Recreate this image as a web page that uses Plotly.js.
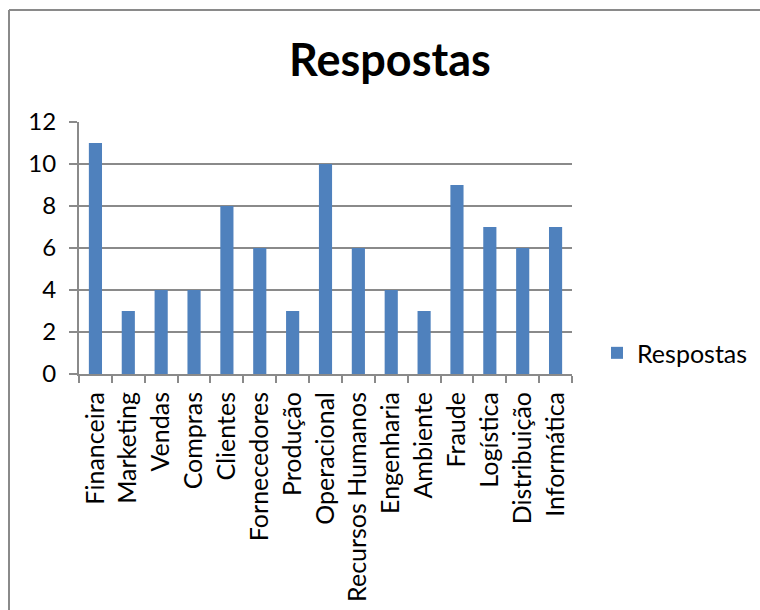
<!DOCTYPE html>
<html>
<head>
<meta charset="utf-8">
<script src="https://cdn.plot.ly/plotly-3.0.1.min.js"></script>
<style>
  html, body { margin: 0; padding: 0; background: #ffffff; }
  #chart { width: 760px; height: 610px; }
</style>
</head>
<body>
<div id="chart"></div>
<script>
// Survey answers per area
const categories = [
  "Financeira", "Marketing", "Vendas", "Compras", "Clientes",
  "Fornecedores", "Produção", "Operacional", "Recursos Humanos",
  "Engenharia", "Ambiente", "Fraude", "Logística", "Distribuição", "Informática"
];
const respostas = [11, 3, 4, 4, 8, 6, 3, 10, 6, 4, 3, 9, 7, 6, 7];
const yTicks = [0, 2, 4, 6, 8, 10, 12];

const seriesName = "Respostas";
const chartTitle = "Respostas";

const FONT = "Lato, 'Open Sans', 'DejaVu Sans', sans-serif";
const GRID = "#8a8a8a";

const trace = {
  type: "bar",
  x: categories,
  y: respostas,
  name: seriesName,
  marker: { color: "#4F81BD" },
  hoverinfo: "x+y"
};

const layout = {
  width: 760,
  height: 610,
  margin: { l: 79, r: 188, t: 122, b: 236, autoexpand: false },
  paper_bgcolor: "#ffffff",
  plot_bgcolor: "#ffffff",
  font: { family: FONT, size: 25, color: "#000000" },
  title: {
    text: "<b>" + chartTitle + "</b>",
    font: { family: FONT, size: 45, color: "#000000" },
    x: 0.513, xanchor: "center",
    y: 0.902, yanchor: "middle", yref: "container"
  },
  bargap: 0.6,
  showlegend: true,
  legend: {
    xref: "container", x: 597 / 760, xanchor: "left",
    y: 0.083, yanchor: "middle",
    font: { family: FONT, size: 25, color: "#000000" },
    itemwidth: 30,
    bgcolor: "rgba(0,0,0,0)"
  },
  xaxis: {
    type: "category",
    tickangle: -90,
    showline: true, linecolor: GRID, linewidth: 2,
    ticks: "outside", ticklen: 7, tickwidth: 2, tickcolor: GRID,
    tickson: "boundaries",
    showgrid: false,
    ticklabelstandoff: 6,
    tickfont: { family: FONT, size: 25, color: "#000000" },
    fixedrange: true
  },
  yaxis: {
    range: [0, 12],
    tickvals: yTicks,
    ticktext: yTicks.map(String),
    showline: true, linecolor: GRID, linewidth: 2,
    ticks: "outside", ticklen: 8, tickwidth: 2, tickcolor: GRID,
    showgrid: true, gridcolor: GRID, gridwidth: 2,
    zeroline: false,
    ticklabelstandoff: 8,
    tickfont: { family: FONT, size: 24, color: "#000000" },
    fixedrange: true
  },
  shapes: [
    // chart frame: left and top edges
    { type: "line", xref: "paper", yref: "paper",
      x0: -70 / 493, x1: -70 / 493, y0: 1 + 112 / 252, y1: -236 / 252 - 0.01,
      line: { color: "#8a8a8a", width: 2 } },
    { type: "line", xref: "paper", yref: "paper",
      x0: -70 / 493, x1: 1 + 190 / 493, y0: 1 + 112 / 252, y1: 1 + 112 / 252,
      line: { color: "#8a8a8a", width: 2 } }
  ]
};

Plotly.newPlot("chart", [trace], layout, { displayModeBar: false, staticPlot: true });
</script>
</body>
</html>
